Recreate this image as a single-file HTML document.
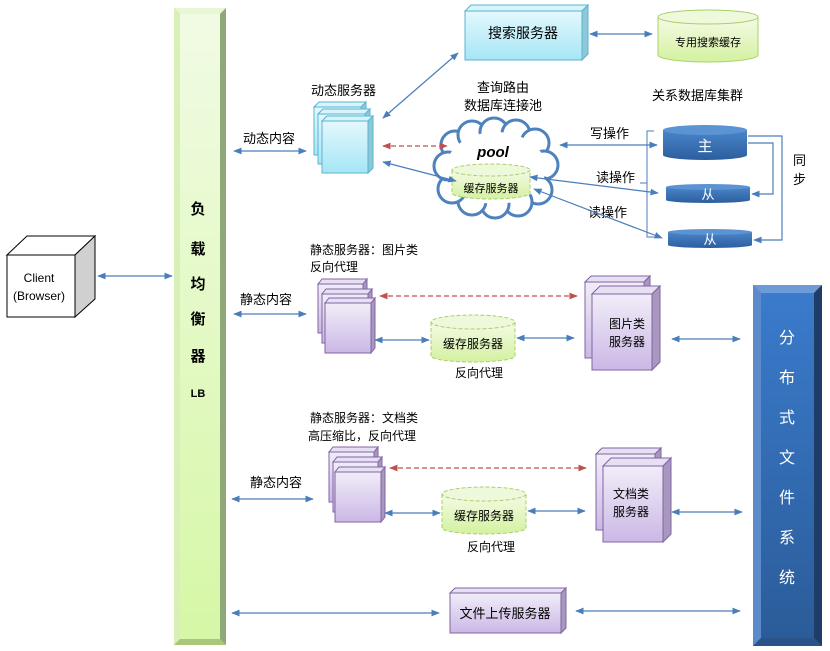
<!DOCTYPE html>
<html><head><meta charset="utf-8">
<style>
html,body{margin:0;padding:0;background:#fff;}
svg{display:block;}
text{font-family:"Liberation Sans","Noto Sans CJK SC",sans-serif;}
</style></head>
<body>
<svg width="830" height="651" viewBox="0 0 830 651" xmlns="http://www.w3.org/2000/svg">
<defs>
<linearGradient id="lb" x1="0" y1="0" x2="0" y2="1"><stop offset="0" stop-color="#f1fbe4"/><stop offset="1" stop-color="#d6f7a6"/></linearGradient>
<linearGradient id="cyan" x1="0" y1="0" x2="0" y2="1"><stop offset="0" stop-color="#e4f8fd"/><stop offset="1" stop-color="#a6e6f6"/></linearGradient>
<linearGradient id="purp" x1="0" y1="0" x2="0" y2="1"><stop offset="0" stop-color="#f1edf8"/><stop offset="1" stop-color="#cbb8e6"/></linearGradient>
<linearGradient id="grn" x1="0" y1="0" x2="0" y2="1"><stop offset="0" stop-color="#f4fbe6"/><stop offset="1" stop-color="#d4f1a0"/></linearGradient>
<linearGradient id="blu" x1="0" y1="0" x2="0" y2="1"><stop offset="0" stop-color="#4a85c9"/><stop offset="1" stop-color="#2c5e9e"/></linearGradient>
<linearGradient id="dfs" x1="0" y1="0" x2="0" y2="1"><stop offset="0" stop-color="#3a7bcc"/><stop offset="1" stop-color="#2b5c99"/></linearGradient>
<marker id="a" viewBox="0 0 10 10" refX="9" refY="5" markerWidth="7" markerHeight="7" orient="auto-start-reverse"><path d="M0,1 L10,5 L0,9 Z" fill="#4a7ebb"/></marker>
<marker id="r" viewBox="0 0 10 10" refX="9" refY="5" markerWidth="7" markerHeight="7" orient="auto-start-reverse"><path d="M0,1 L10,5 L0,9 Z" fill="#c0504d"/></marker>
</defs>

<!-- Client -->
<polygon points="7,255 27,236 95,236 75,255" fill="#fff" stroke="#000" stroke-width="1"/>
<polygon points="75,255 95,236 95,299 75,317" fill="#d0d0d0" stroke="#000" stroke-width="1"/>
<rect x="7" y="255" width="68" height="62" fill="#fff" stroke="#000" stroke-width="1"/>
<text x="39" y="282" font-size="12" text-anchor="middle">Client</text>
<text x="39" y="300" font-size="12" text-anchor="middle">(Browser)</text>
<line x1="98" y1="276" x2="172" y2="276" stroke="#4a7ebb" stroke-width="1.2" marker-start="url(#a)" marker-end="url(#a)"/>

<!-- LB bar -->
<rect x="174" y="8" width="52" height="637" fill="#b9d98a"/>
<polygon points="174,8 226,8 220,14 180,14" fill="#e9f6d6"/>
<polygon points="174,8 180,14 180,639 174,645" fill="#d9efb8"/>
<polygon points="220,14 226,8 226,645 220,639" fill="#8fa878"/>
<polygon points="174,645 180,639 220,639 226,645" fill="#a9c77a"/>
<rect x="180" y="14" width="40" height="625" fill="url(#lb)"/>
<g font-size="15" font-weight="bold" text-anchor="middle">
<text x="198" y="214">负</text><text x="198" y="254">载</text><text x="198" y="289">均</text><text x="198" y="324">衡</text><text x="198" y="361">器</text>
<text x="198" y="397" font-size="11">LB</text></g>

<!-- Dynamic -->
<text x="243" y="143" font-size="13">动态内容</text>
<line x1="234" y1="151" x2="306" y2="151" stroke="#4a7ebb" stroke-width="1.2" marker-start="url(#a)" marker-end="url(#a)"/>
<text x="311" y="95" font-size="13">动态服务器</text>
<g stroke="#5ab4d0" stroke-width="1">
<polygon points="314,107 319,102 366,102 361,107" fill="#d8f4fb"/><polygon points="361,107 366,102 366,150 361,155" fill="#8fc7d6"/><rect x="314" y="107" width="47" height="48" fill="url(#cyan)"/>
<polygon points="318,114 323,109 370,109 365,114" fill="#d8f4fb"/><polygon points="365,114 370,109 370,159 365,164" fill="#8fc7d6"/><rect x="318" y="114" width="47" height="50" fill="url(#cyan)"/>
<polygon points="322,121 327,116 373,116 368,121" fill="#d8f4fb"/><polygon points="368,121 373,116 373,168 368,173" fill="#8fc7d6"/><rect x="322" y="121" width="46" height="52" fill="url(#cyan)"/>
</g>

<!-- Search server -->
<polygon points="465,11 471,5 588,5 582,11" fill="#d8f4fb" stroke="#5ab4d0"/>
<polygon points="582,11 588,5 588,54 582,60" fill="#8fc7d6" stroke="#5ab4d0"/>
<rect x="465" y="11" width="117" height="49" fill="url(#cyan)" stroke="#5ab4d0"/>
<text x="523" y="38" font-size="14" text-anchor="middle">搜索服务器</text>
<line x1="590" y1="34" x2="652" y2="34" stroke="#4a7ebb" stroke-width="1.2" marker-start="url(#a)" marker-end="url(#a)"/>
<path d="M658,17 L658,55 A50,7 0 0 0 758,55 L758,17" fill="url(#grn)" stroke="#a8d06a"/>
<ellipse cx="708" cy="17" rx="50" ry="7" fill="#eef9dc" stroke="#a8d06a"/>
<text x="708" y="46" font-size="11" text-anchor="middle">专用搜索缓存</text>
<line x1="383" y1="118" x2="458" y2="53" stroke="#4a7ebb" stroke-width="1.2" marker-start="url(#a)" marker-end="url(#a)"/>

<!-- cloud -->
<text x="477" y="92" font-size="13">查询路由</text>
<text x="464" y="110" font-size="13">数据库连接池</text>
<g fill="#fff" stroke="#4f81bd" stroke-width="3">
<circle cx="455" cy="145" r="14"/><circle cx="472" cy="135" r="14"/><circle cx="494" cy="132" r="14"/><circle cx="516" cy="134" r="14"/><circle cx="535" cy="143" r="14"/>
<circle cx="544" cy="165" r="14"/><circle cx="538" cy="190" r="14"/><circle cx="518" cy="202" r="14"/><circle cx="495" cy="204" r="14"/><circle cx="472" cy="201" r="14"/>
<circle cx="452" cy="189" r="14"/><circle cx="448" cy="166" r="14"/>
</g>
<ellipse cx="496" cy="168" rx="50" ry="36" fill="#fff"/>
<text x="493" y="157" font-size="15" font-weight="bold" font-style="italic" text-anchor="middle">pool</text>
<path d="M452,170 L452,193 A39,6 0 0 0 530,193 L530,170" fill="url(#grn)" stroke="#a8d06a" stroke-dasharray="4,2"/>
<ellipse cx="491" cy="170" rx="39" ry="6" fill="#eef9dc" stroke="#a8d06a" stroke-dasharray="4,2"/>
<text x="491" y="192" font-size="11" text-anchor="middle">缓存服务器</text>
<line x1="383" y1="146" x2="447" y2="146" stroke="#c0504d" stroke-width="1.2" stroke-dasharray="5,3" marker-start="url(#r)" marker-end="url(#r)"/>
<line x1="383" y1="162" x2="456" y2="181" stroke="#4a7ebb" stroke-width="1.2" marker-start="url(#a)" marker-end="url(#a)"/>

<!-- DB cluster -->
<text x="652" y="100" font-size="13">关系数据库集群</text>
<text x="590" y="138" font-size="13">写操作</text>
<line x1="560" y1="145" x2="657" y2="145" stroke="#4a7ebb" stroke-width="1.2" marker-start="url(#a)" marker-end="url(#a)"/>
<text x="596" y="182" font-size="13">读操作</text>
<line x1="530" y1="177" x2="658" y2="193" stroke="#4a7ebb" stroke-width="1.2" marker-start="url(#a)" marker-end="url(#a)"/>
<text x="588" y="217" font-size="13">读操作</text>
<line x1="534" y1="189" x2="662" y2="238" stroke="#4a7ebb" stroke-width="1.2" marker-start="url(#a)" marker-end="url(#a)"/>
<path d="M654,131 L647,131 L647,237 L654,237 M640,183 L647,183" fill="none" stroke="#4a7ebb" stroke-width="1"/>
<path d="M663,130 L663,155 A42,5 0 0 0 747,155 L747,130" fill="url(#blu)"/>
<ellipse cx="705" cy="130" rx="42" ry="5" fill="#5b93d3"/>
<text x="705" y="151" font-size="15" fill="#fff" text-anchor="middle">主</text>
<path d="M666,187 L666,200 A42,3 0 0 0 750,200 L750,187" fill="url(#blu)"/>
<ellipse cx="708" cy="187" rx="42" ry="3" fill="#5b93d3"/>
<text x="708" y="199" font-size="13" fill="#fff" text-anchor="middle">从</text>
<path d="M668,232 L668,245 A42,3 0 0 0 752,245 L752,232" fill="url(#blu)"/>
<ellipse cx="710" cy="232" rx="42" ry="3" fill="#5b93d3"/>
<text x="710" y="244" font-size="13" fill="#fff" text-anchor="middle">从</text>
<path d="M748,136 L782,136 L782,240 L754,240" fill="none" stroke="#4a7ebb" stroke-width="1.2" marker-end="url(#a)"/>
<path d="M748,143 L773,143 L773,194 L752,194" fill="none" stroke="#4a7ebb" stroke-width="1.2" marker-end="url(#a)"/>
<text x="793" y="165" font-size="13">同</text>
<text x="793" y="184" font-size="13">步</text>

<!-- Static image -->
<text x="310" y="254" font-size="12">静态服务器：图片类</text>
<text x="310" y="271" font-size="12">反向代理</text>
<text x="240" y="304" font-size="13">静态内容</text>
<line x1="234" y1="314" x2="306" y2="314" stroke="#4a7ebb" stroke-width="1.2" marker-start="url(#a)" marker-end="url(#a)"/>
<g stroke="#8064a2" stroke-width="1">
<polygon points="318,284 322,279 367,279 363,284" fill="#e7dff3"/><polygon points="363,284 367,279 367,328 363,333" fill="#a898c0"/><rect x="318" y="284" width="45" height="49" fill="url(#purp)"/>
<polygon points="322,294 326,289 372,289 368,294" fill="#e7dff3"/><polygon points="368,294 372,289 372,338 368,343" fill="#a898c0"/><rect x="322" y="294" width="46" height="49" fill="url(#purp)"/>
<polygon points="325,303 329,298 375,298 371,303" fill="#e7dff3"/><polygon points="371,303 375,298 375,348 371,353" fill="#a898c0"/><rect x="325" y="303" width="46" height="50" fill="url(#purp)"/>
</g>
<line x1="380" y1="296" x2="577" y2="296" stroke="#c0504d" stroke-width="1.2" stroke-dasharray="5,3" marker-start="url(#r)" marker-end="url(#r)"/>
<path d="M431,322 L431,356 A42,6 0 0 0 515,356 L515,322" fill="url(#grn)" stroke="#a8d06a" stroke-dasharray="4,2"/>
<ellipse cx="473" cy="322" rx="42" ry="7" fill="#eef9dc" stroke="#a8d06a" stroke-dasharray="4,2"/>
<text x="473" y="348" font-size="12" text-anchor="middle">缓存服务器</text>
<text x="455" y="377" font-size="12">反向代理</text>
<line x1="375" y1="340" x2="429" y2="340" stroke="#4a7ebb" stroke-width="1.2" marker-start="url(#a)" marker-end="url(#a)"/>
<line x1="517" y1="338" x2="574" y2="338" stroke="#4a7ebb" stroke-width="1.2" marker-start="url(#a)" marker-end="url(#a)"/>
<g stroke="#8064a2" stroke-width="1">
<polygon points="585,282 591,276 650,276 644,282" fill="#e7dff3"/><polygon points="644,282 650,276 650,352 644,358" fill="#a898c0"/><rect x="585" y="282" width="59" height="76" fill="url(#purp)"/>
<polygon points="592,294 600,286 660,286 652,294" fill="#e7dff3"/><polygon points="652,294 660,286 660,362 652,370" fill="#a898c0"/><rect x="592" y="294" width="60" height="76" fill="url(#purp)"/>
</g>
<text x="627" y="328" font-size="12" text-anchor="middle">图片类</text>
<text x="627" y="346" font-size="12" text-anchor="middle">服务器</text>
<line x1="672" y1="339" x2="740" y2="339" stroke="#4a7ebb" stroke-width="1.2" marker-start="url(#a)" marker-end="url(#a)"/>

<!-- Static doc -->
<text x="310" y="422" font-size="12">静态服务器：文档类</text>
<text x="308" y="440" font-size="12">高压缩比，反向代理</text>
<text x="250" y="487" font-size="13">静态内容</text>
<line x1="232" y1="499" x2="313" y2="499" stroke="#4a7ebb" stroke-width="1.2" marker-start="url(#a)" marker-end="url(#a)"/>
<g stroke="#8064a2" stroke-width="1">
<polygon points="329,452 333,447 378,447 374,452" fill="#e7dff3"/><polygon points="374,452 378,447 378,497 374,502" fill="#a898c0"/><rect x="329" y="452" width="45" height="50" fill="url(#purp)"/>
<polygon points="333,462 337,457 382,457 378,462" fill="#e7dff3"/><polygon points="378,462 382,457 382,507 378,512" fill="#a898c0"/><rect x="333" y="462" width="45" height="50" fill="url(#purp)"/>
<polygon points="335,472 339,467 385,467 381,472" fill="#e7dff3"/><polygon points="381,472 385,467 385,517 381,522" fill="#a898c0"/><rect x="335" y="472" width="46" height="50" fill="url(#purp)"/>
</g>
<line x1="390" y1="468" x2="586" y2="468" stroke="#c0504d" stroke-width="1.2" stroke-dasharray="5,3" marker-start="url(#r)" marker-end="url(#r)"/>
<path d="M442,494 L442,528 A42,6 0 0 0 526,528 L526,494" fill="url(#grn)" stroke="#a8d06a" stroke-dasharray="4,2"/>
<ellipse cx="484" cy="494" rx="42" ry="7" fill="#eef9dc" stroke="#a8d06a" stroke-dasharray="4,2"/>
<text x="484" y="520" font-size="12" text-anchor="middle">缓存服务器</text>
<text x="467" y="551" font-size="12">反向代理</text>
<line x1="385" y1="513" x2="440" y2="513" stroke="#4a7ebb" stroke-width="1.2" marker-start="url(#a)" marker-end="url(#a)"/>
<line x1="528" y1="511" x2="585" y2="511" stroke="#4a7ebb" stroke-width="1.2" marker-start="url(#a)" marker-end="url(#a)"/>
<g stroke="#8064a2" stroke-width="1">
<polygon points="596,454 602,448 661,448 655,454" fill="#e7dff3"/><polygon points="655,454 661,448 661,524 655,530" fill="#a898c0"/><rect x="596" y="454" width="59" height="76" fill="url(#purp)"/>
<polygon points="603,466 611,458 671,458 663,466" fill="#e7dff3"/><polygon points="663,466 671,458 671,534 663,542" fill="#a898c0"/><rect x="603" y="466" width="60" height="76" fill="url(#purp)"/>
</g>
<text x="631" y="498" font-size="12" text-anchor="middle">文档类</text>
<text x="631" y="516" font-size="12" text-anchor="middle">服务器</text>
<line x1="672" y1="512" x2="742" y2="512" stroke="#4a7ebb" stroke-width="1.2" marker-start="url(#a)" marker-end="url(#a)"/>

<!-- Upload -->
<line x1="232" y1="613" x2="439" y2="613" stroke="#4a7ebb" stroke-width="1.2" marker-start="url(#a)" marker-end="url(#a)"/>
<polygon points="450,593 455,588 566,588 561,593" fill="#e7dff3" stroke="#8064a2"/>
<polygon points="561,593 566,588 566,628 561,633" fill="#a898c0" stroke="#8064a2"/>
<rect x="450" y="593" width="111" height="40" fill="url(#purp)" stroke="#8064a2"/>
<text x="505" y="618" font-size="13" text-anchor="middle">文件上传服务器</text>
<line x1="576" y1="611" x2="740" y2="611" stroke="#4a7ebb" stroke-width="1.2" marker-start="url(#a)" marker-end="url(#a)"/>

<!-- DFS -->
<rect x="753" y="285" width="69" height="361" fill="#2f5f9a"/>
<polygon points="753,285 822,285 814,293 761,293" fill="#6d9bd6"/>
<polygon points="753,285 761,293 761,638 753,646" fill="#5b8bcb"/>
<polygon points="822,285 814,293 814,638 822,646" fill="#1f3d66"/>
<polygon points="753,646 761,638 814,638 822,646" fill="#2a5389"/>
<rect x="761" y="293" width="53" height="345" fill="url(#dfs)"/>
<g font-size="16" fill="#fff" text-anchor="middle">
<text x="787" y="343">分</text><text x="787" y="383">布</text><text x="787" y="423">式</text><text x="787" y="463">文</text><text x="787" y="503">件</text><text x="787" y="543">系</text><text x="787" y="583">统</text></g>
</svg>
</body></html>
